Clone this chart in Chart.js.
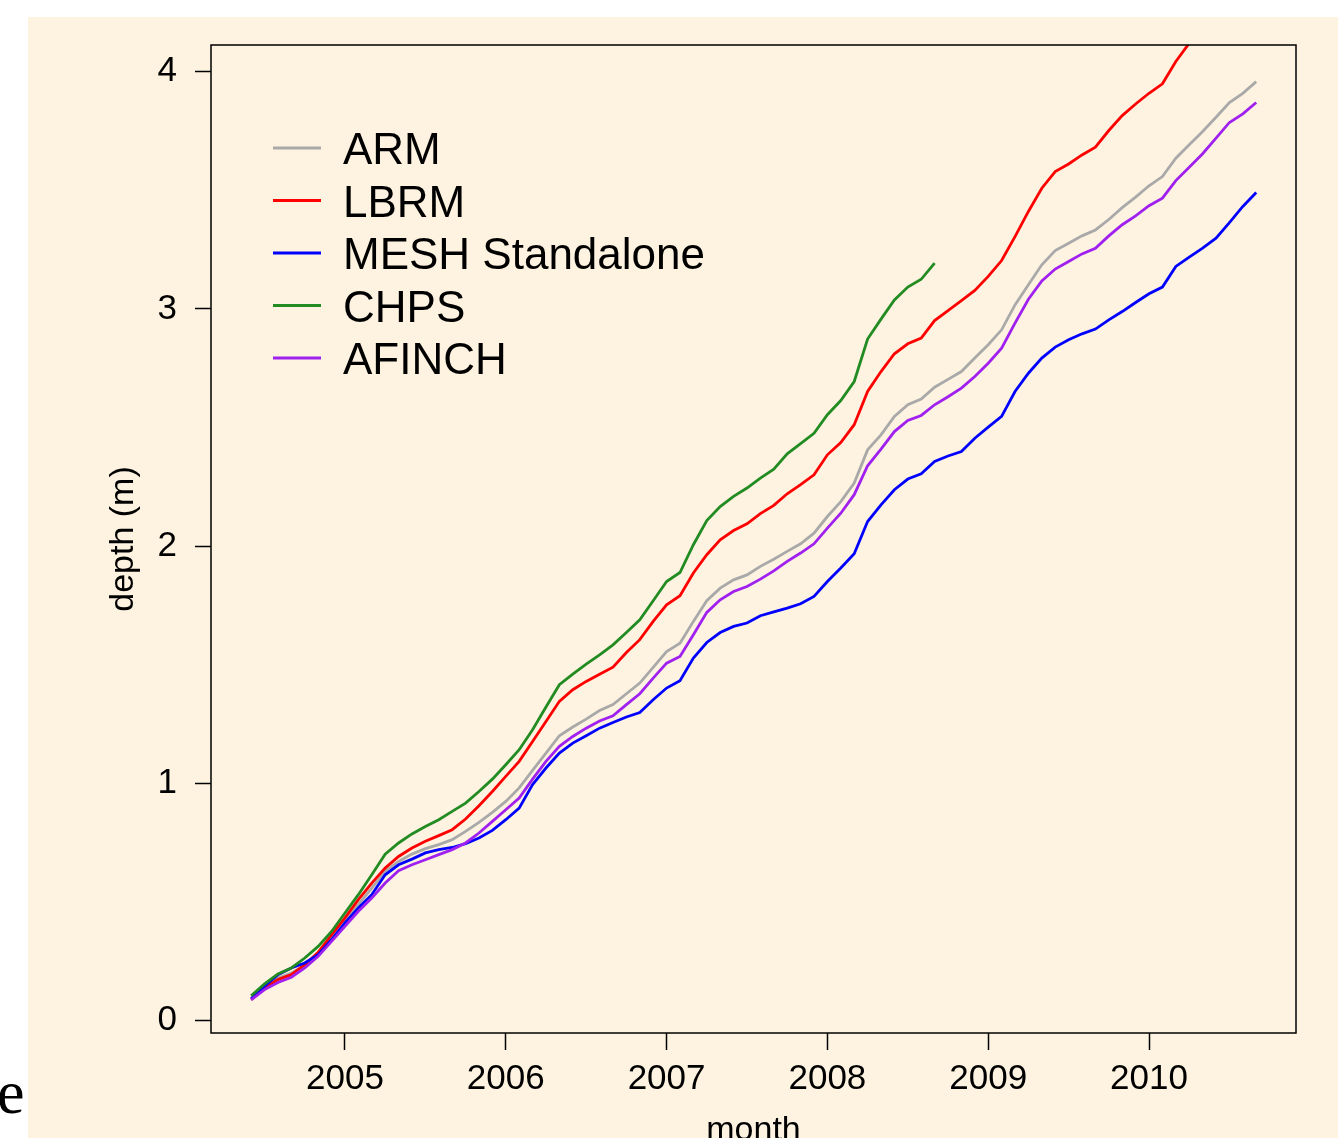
<!DOCTYPE html>
<html>
<head>
<meta charset="utf-8">
<script src="https://cdn.jsdelivr.net/npm/chart.js@4"></script>
<style>
  html, body { margin: 0; padding: 0; background: #ffffff; overflow: hidden; }
  #wrap { position: relative; width: 1338px; height: 1138px; }
  #cream { position: absolute; left: 28px; top: 17px; right: 0; bottom: 0; background: #fef3e0; }
  #c { position: absolute; left: 0; top: 0; }
  #frag { position: absolute; left: -3px; top: 1052px; font-family: "Liberation Serif", "DejaVu Serif", serif; font-size: 62px; line-height: 80px; color: #000; }
</style>
</head>
<body>
<div id="wrap">
  <div id="cream"></div>
  <div id="frag">e</div>
  <canvas id="c" width="1338" height="1138"></canvas>
</div>
<script>
// ---- data (monthly, first value = June 2004) ----
const startYear = 2004;
const startMonth = 6;
const nMonths = 76;

const seriesNames = ["ARM", "LBRM", "MESH Standalone", "CHPS", "AFINCH"];
const seriesColors = ["#a9a9a9", "#ff0000", "#0000ff", "#228b22", "#a020f0"];

const arm = [0.092,0.145,0.180,0.201,0.232,0.280,0.355,0.419,0.489,0.559,0.629,0.671,0.702,0.725,0.742,0.763,0.798,0.836,0.878,0.924,
  0.981,1.055,1.128,1.201,1.238,1.271,1.307,1.332,1.378,1.423,1.489,1.556,1.591,1.683,1.770,1.823,1.858,1.879,1.915,1.945,
  1.978,2.010,2.055,2.125,2.188,2.266,2.406,2.469,2.547,2.596,2.620,2.670,2.703,2.736,2.793,2.849,2.912,3.017,3.102,3.186,
  3.246,3.277,3.308,3.333,3.377,3.427,3.471,3.519,3.558,3.635,3.692,3.748,3.808,3.870,3.909,3.958];

const lbrm = [0.088,0.138,0.173,0.194,0.236,0.288,0.362,0.433,0.510,0.580,0.643,0.692,0.728,0.756,0.780,0.805,0.850,0.906,0.966,1.030,
  1.093,1.177,1.261,1.346,1.395,1.430,1.460,1.490,1.552,1.606,1.683,1.753,1.791,1.887,1.964,2.027,2.066,2.094,2.137,2.172,
  2.221,2.259,2.301,2.385,2.437,2.512,2.652,2.736,2.811,2.853,2.877,2.951,2.993,3.035,3.078,3.137,3.204,3.305,3.411,3.509,
  3.579,3.611,3.649,3.682,3.752,3.815,3.864,3.909,3.949,4.043,4.120];

const mesh = [0.092,0.145,0.194,0.222,0.243,0.278,0.341,0.412,0.475,0.531,0.615,0.657,0.681,0.707,0.721,0.730,0.746,0.770,0.802,0.847,
  0.896,0.995,1.065,1.128,1.170,1.201,1.233,1.257,1.280,1.299,1.353,1.402,1.433,1.528,1.594,1.636,1.662,1.676,1.707,1.723,
  1.739,1.757,1.788,1.851,1.908,1.968,2.104,2.174,2.238,2.283,2.305,2.357,2.380,2.399,2.455,2.502,2.547,2.652,2.729,2.793,
  2.839,2.870,2.895,2.915,2.954,2.989,3.027,3.064,3.092,3.179,3.218,3.256,3.298,3.364,3.432,3.491];

const chps = [0.105,0.155,0.197,0.222,0.264,0.313,0.376,0.454,0.531,0.615,0.702,0.749,0.787,0.818,0.847,0.882,0.917,0.966,1.018,1.079,
  1.142,1.226,1.322,1.416,1.461,1.503,1.542,1.584,1.636,1.690,1.770,1.851,1.889,2.006,2.108,2.167,2.210,2.245,2.287,2.325,
  2.389,2.432,2.476,2.554,2.614,2.694,2.873,2.957,3.038,3.092,3.125,3.193];

const afinch = [0.088,0.131,0.161,0.183,0.222,0.271,0.334,0.398,0.461,0.517,0.580,0.632,0.657,0.678,0.700,0.721,0.749,0.791,0.840,0.889,
  0.938,1.018,1.093,1.156,1.198,1.233,1.263,1.285,1.332,1.378,1.444,1.507,1.535,1.627,1.721,1.774,1.809,1.830,1.861,1.896,
  1.936,1.971,2.010,2.076,2.139,2.217,2.339,2.409,2.483,2.530,2.551,2.596,2.630,2.666,2.715,2.771,2.835,2.940,3.041,3.118,
  3.168,3.200,3.232,3.256,3.308,3.355,3.392,3.435,3.467,3.541,3.597,3.654,3.720,3.786,3.822,3.870];

const yTickValues = [0, 1, 2, 3, 4];
const xTickValues = [2005, 2006, 2007, 2008, 2009, 2010];
const xTitle = "month";
const yTitle = "depth (m)";

// ---- build ----
const monthX = [];
for (let i = 0; i < nMonths; i++) monthX.push(startYear + (startMonth - 1 + i) / 12);

const allSeries = [arm, lbrm, mesh, chps, afinch];
const FONT = '"Liberation Sans", Arial, Helvetica, sans-serif';

const datasets = allSeries.map((vals, k) => ({
  label: seriesNames[k],
  data: vals.map((v, i) => ({ x: monthX[i], y: v })),
  borderColor: seriesColors[k],
  backgroundColor: seriesColors[k],
  borderWidth: 2.8,
  pointRadius: 0,
  tension: 0,
  fill: false,
  clip: 0,
  order: allSeries.length - 1 - k
}));

const decor = {
  id: 'decor',
  afterDraw(chart) {
    const ctx = chart.ctx;
    const a = chart.chartArea;
    ctx.save();
    // frame
    ctx.strokeStyle = '#000';
    ctx.lineWidth = 1.5;
    ctx.strokeRect(a.left, a.top, a.right - a.left, a.bottom - a.top);
    // legend
    ctx.font = '44px ' + FONT;
    ctx.textAlign = 'left';
    ctx.textBaseline = 'alphabetic';
    chart.data.datasets.forEach((ds, k) => {
      const y = 148 + 52.5 * k;
      ctx.strokeStyle = ds.borderColor;
      ctx.lineWidth = 3;
      ctx.beginPath();
      ctx.moveTo(273, y);
      ctx.lineTo(321, y);
      ctx.stroke();
      ctx.fillStyle = '#000';
      ctx.fillText(ds.label, 343, y + 16);
    });
    // axis titles
    ctx.font = '34px ' + FONT;
    ctx.fillStyle = '#000';
    ctx.textAlign = 'center';
    ctx.textBaseline = 'alphabetic';
    ctx.fillText(xTitle, (a.left + a.right) / 2, 1140);
    ctx.translate(133, (a.top + a.bottom) / 2);
    ctx.rotate(-Math.PI / 2);
    ctx.fillText(yTitle, 0, 0);
    ctx.restore();
  }
};

new Chart(document.getElementById('c'), {
  type: 'line',
  data: { datasets },
  options: {
    responsive: false,
    animation: false,
    devicePixelRatio: 1,
    layout: { padding: { left: 0, top: 45, right: 42, bottom: 0 } },
    plugins: { legend: { display: false }, tooltip: { enabled: false } },
    scales: {
      x: {
        type: 'linear',
        min: 2004.167,
        max: 2010.914,
        afterFit(scale) { scale.height = 105; },
        afterBuildTicks(scale) { scale.ticks = xTickValues.map(v => ({ value: v })); },
        grid: { drawOnChartArea: false, drawTicks: true, tickLength: 17, tickColor: '#000', tickWidth: 1.5 },
        border: { display: false },
        ticks: { stepSize: 1, includeBounds: false, padding: 8, color: '#000', font: { family: FONT, size: 35 },
                 maxRotation: 0, autoSkip: false, callback: v => String(Math.round(v)) }
      },
      y: {
        type: 'linear',
        min: -0.052,
        max: 4.1125,
        afterFit(scale) { scale.width = 211; },
        afterBuildTicks(scale) { scale.ticks = yTickValues.map(v => ({ value: v })); },
        grid: { drawOnChartArea: false, drawTicks: true, tickLength: 16, tickColor: '#000', tickWidth: 1.5 },
        border: { display: false },
        ticks: { stepSize: 1, includeBounds: false, padding: 18, color: '#000', font: { family: FONT, size: 35 },
                 autoSkip: false, callback: v => String(Math.round(v)) }
      }
    }
  },
  plugins: [decor]
});
</script>
</body>
</html>
